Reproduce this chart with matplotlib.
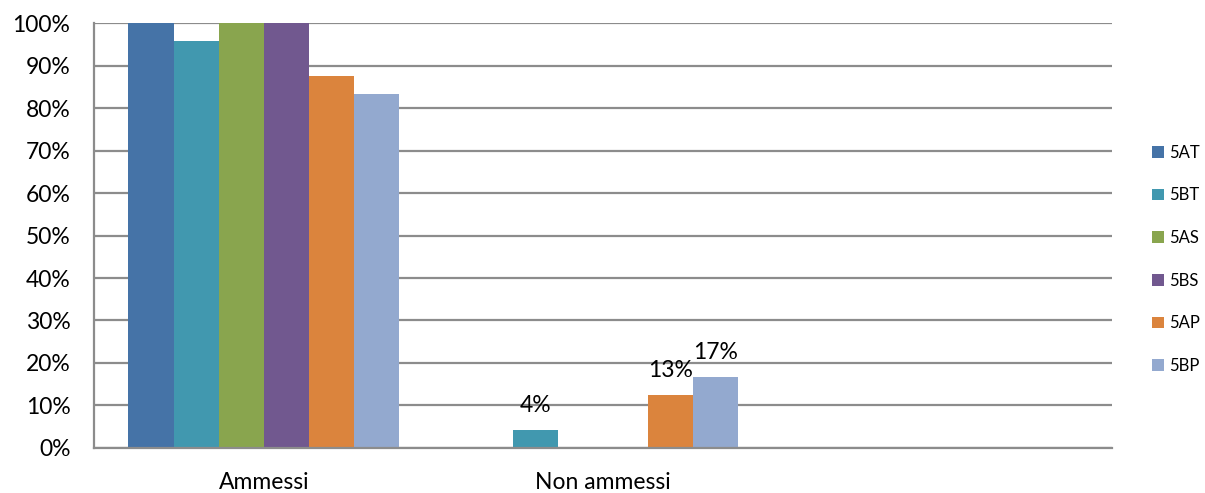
import numpy as np
import matplotlib.pyplot as plt

plt.rcParams['font.family'] = ['Lato', 'DejaVu Sans']

# categories (third slot is empty in the original chart)
categories = ['Ammessi', 'Non ammessi', '']
classes = ['5AT', '5BT', '5AS', '5BS', '5AP', '5BP']
colors = ['#4573a7', '#4198af', '#89a54e', '#71588f', '#db843d', '#93a9cf']

# percentages per class: [Ammessi, Non ammessi, empty]
v_5AT = [100.0, 0.0, 0.0]
v_5BT = [95.8, 4.2, 0.0]
v_5AS = [100.0, 0.0, 0.0]
v_5BS = [100.0, 0.0, 0.0]
v_5AP = [87.5, 12.5, 0.0]
v_5BP = [83.3, 16.7, 0.0]
values = [v_5AT, v_5BT, v_5AS, v_5BS, v_5AP, v_5BP]

fig = plt.figure(figsize=(12.05, 4.93), dpi=100)
ax = fig.add_axes([0.078, 0.0913, 0.8450, 0.862])

ind = np.arange(len(categories))
width = 0.1328
offsets = (np.arange(len(classes)) - 2.5) * width

for i, cls in enumerate(classes):
    ax.bar(ind + offsets[i], values[i], width, color=colors[i], label=cls, zorder=3)
    # data labels only on the "Non ammessi" group
    v = values[i][1]
    if v > 0:
        ax.text(ind[1] + offsets[i], v + 3.3, '%d%%' % int(v + 0.5), ha='center', va='bottom',
                fontsize=16.5, color='black', zorder=4)

ax.set_xlim(-0.5, len(categories) - 0.5)
ax.set_ylim(0, 100)
ax.set_yticks(np.arange(0, 101, 10))
ax.set_yticklabels(['%d%%' % t for t in range(0, 101, 10)], fontsize=16.5)
ax.set_xticks(ind[:2])
ax.set_xticklabels(categories[:2], fontsize=16.5)
ax.tick_params(axis='both', length=0)
ax.tick_params(axis='y', pad=17)
ax.tick_params(axis='x', pad=17)

ax.grid(axis='y', color='#8c8c8c', linewidth=1.6, zorder=0)
for s in ['top', 'right']:
    ax.spines[s].set_visible(False)
ax.spines['left'].set_color('#8c8c8c')
ax.spines['left'].set_linewidth(1.6)
ax.spines['bottom'].set_color('#8c8c8c')
ax.spines['bottom'].set_linewidth(1.6)
ax.spines['bottom'].set_zorder(5)

leg = fig.legend(loc='center left', bbox_to_anchor=(0.949, 0.474), frameon=False,
                 fontsize=12, handlelength=0.7, handleheight=0.7, handletextpad=0.35,
                 labelspacing=1.6, borderpad=0)

fig.savefig('out.png', dpi=100)
